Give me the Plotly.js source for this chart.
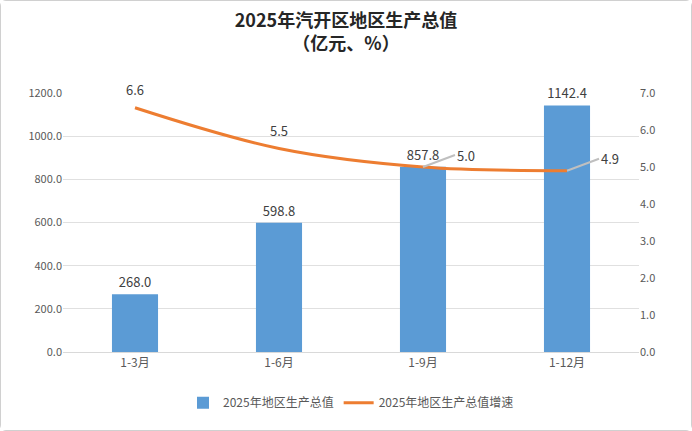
<!DOCTYPE html>
<html>
<head>
<meta charset="utf-8">
<script src="https://cdn.plot.ly/plotly-3.0.1.min.js"></script>
<style>
body { margin: 0; }
#chart { width: 690px; height: 429px; border: 1px solid #d0d0d0; border-radius: 6px; }
</style>
</head>
<body>
<div id="chart"></div>
<script>
const periods = ['1-3月', '1-6月', '1-9月', '1-12月'];
const gdp = [268.0, 598.8, 857.8, 1142.4];
const growth = [6.6, 5.5, 5.0, 4.9];
const font = 'Microsoft YaHei, "Noto Sans CJK SC", sans-serif';

const bars = {
    type: 'bar',
    x: periods,
    y: gdp,
    name: '2025年地区生产总值',
    width: 0.32,
    marker: { color: '#5b9bd5' },
    text: gdp.map(v => v.toFixed(1)),
    textposition: 'outside',
    cliponaxis: false,
    textfont: { size: 13, color: '#404040' },
};
const line = {
    type: 'scatter',
    x: periods,
    y: growth,
    yaxis: 'y2',
    name: '2025年地区生产总值增速',
    mode: 'lines',
    line: { color: '#ed7d31', width: 3, shape: 'spline' },
};

// value labels for the line: first two above, last two to the right with a leader
const annotations = growth.map((v, i) => i < 2
    ? { x: periods[i], y: v, yref: 'y2', text: v.toFixed(1), showarrow: false, yshift: 18, font: { size: 13, color: '#404040' } }
    : { x: periods[i], y: v, yref: 'y2', text: v.toFixed(1), showarrow: true, arrowhead: 0, arrowcolor: '#bfbfbf', ax: 32, ay: -12, xanchor: 'left', font: { size: 13, color: '#404040' } });

Plotly.newPlot('chart', [bars, line], {
    width: 690,
    height: 429,
    font: { family: font, size: 12, color: '#595959' },
    title: { text: '<b>2025年汽开区地区生产总值<br>（亿元、%）</b>', x: 0.5, y: 0.94, font: { size: 18, color: '#262626' } },
    margin: { l: 62, r: 52, t: 92, b: 78 },
    bargap: 0.68,
    xaxis: { showline: true, linecolor: '#d9d9d9', tickfont: { size: 12 } },
    yaxis: { range: [0, 1200], dtick: 200, tickformat: '.1f', gridcolor: '#e0e0e0', zeroline: false, tickfont: { size: 11 } },
    yaxis2: { range: [0, 7], dtick: 1, tickformat: '.1f', overlaying: 'y', side: 'right', showgrid: false, zeroline: false, tickfont: { size: 11 } },
    legend: { orientation: 'h', x: 0.5, xanchor: 'center', y: -0.14, font: { size: 12 } },
    annotations: annotations,
    showlegend: true,
}, { displayModeBar: false });
</script>
</body>
</html>
